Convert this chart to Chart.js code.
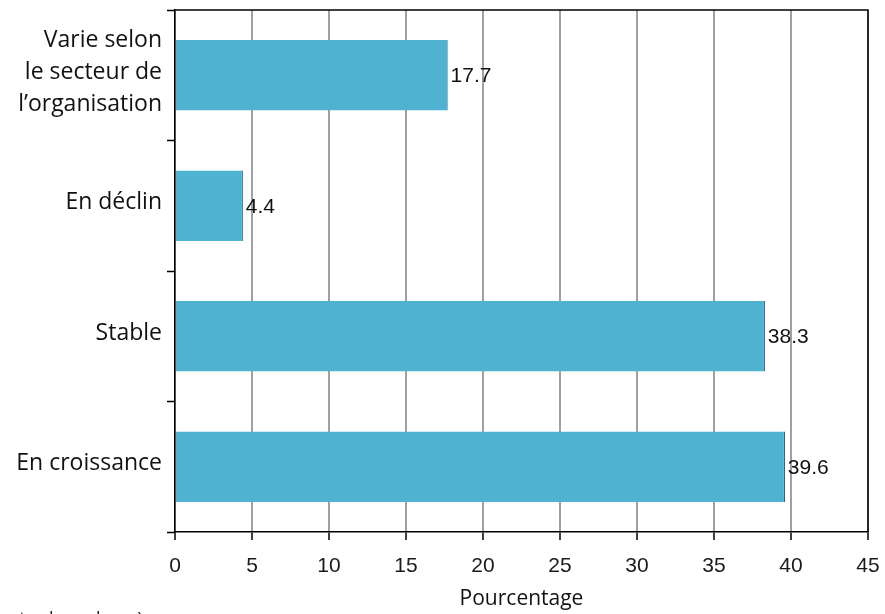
<!DOCTYPE html>
<html>
<head>
<meta charset="utf-8">
<script src="https://cdn.jsdelivr.net/npm/chart.js@4"></script>
<style>
  html, body { margin: 0; padding: 0; background: #fff; overflow: hidden; }
  #wrap { position: relative; width: 885px; height: 614px; overflow: hidden; }
  #note { position: absolute; left: -9px; top: 606px; font: 18px "Open Sans", sans-serif; color: #222; white-space: nowrap; }
</style>
</head>
<body>
<div id="wrap">
  <canvas id="chart" width="885" height="614"></canvas>
  <div id="note">toutes les valeurs)</div>
</div>
<script>
const categories = [
  ['Varie selon', 'le secteur de', 'l\u2019organisation'],
  'En déclin',
  'Stable',
  'En croissance',
]
const values = [17.7, 4.4, 38.3, 39.6]
const xTicks = [0, 5, 10, 15, 20, 25, 30, 35, 40, 45]

const labelFont = '"Open Sans", "Noto Sans", sans-serif'
const numFont = '"Liberation Sans Narrow", "Liberation Sans", Arial, sans-serif'

// frame on top and right, plus value labels at bar ends
const extras = {
  id: 'extras',
  afterDatasetsDraw(chart) {
    const { ctx, chartArea } = chart
    ctx.save()
    ctx.strokeStyle = '#000'
    ctx.lineWidth = 1.5
    ctx.beginPath()
    ctx.moveTo(chartArea.left, chartArea.top)
    ctx.lineTo(chartArea.right, chartArea.top)
    ctx.lineTo(chartArea.right, chartArea.bottom)
    ctx.stroke()

    const meta = chart.getDatasetMeta(0)
    ctx.font = '21px ' + numFont
    ctx.fillStyle = '#111'
    ctx.textAlign = 'left'
    ctx.textBaseline = 'middle'
    meta.data.forEach((bar, i) => {
      ctx.fillText(values[i].toFixed(1), bar.x + 3, bar.y + 1)
    })
    ctx.restore()
  },
}

new Chart(document.getElementById('chart'), {
  type: 'bar',
  data: {
    labels: categories,
    datasets: [
      {
        data: values,
        backgroundColor: '#4eb2d0',
        borderColor: '#111',
        borderWidth: { left: 0, top: 0, bottom: 0, right: 1 },
        borderSkipped: false,
        barPercentage: 0.54,
        categoryPercentage: 1,
      },
    ],
  },
  plugins: [extras],
  options: {
    indexAxis: 'y',
    responsive: false,
    animation: false,
    layout: { padding: { top: 10, right: 17, bottom: 0, left: 0 } },
    plugins: {
      legend: { display: false },
      tooltip: { enabled: false },
    },
    scales: {
      x: {
        min: 0,
        max: 45,
        afterBuildTicks(axis) {
          axis.ticks = xTicks.map((v) => ({ value: v }))
        },
        grid: {
          color: '#a0a0a0',
          lineWidth: 2,
          tickColor: '#000',
          tickLength: 8,
          tickWidth: 1.5,
        },
        border: { color: '#000', width: 1.5 },
        ticks: {
          padding: 14,
          color: '#1a1a1a',
          font: { family: numFont, size: 21 },
        },
        title: {
          display: true,
          text: 'Pourcentage',
          color: '#111',
          font: { family: labelFont, size: 21 },
          padding: { top: 0, bottom: 2 },
        },
        afterFit(axis) {
          axis.height = 82
          axis.paddingLeft = 0
          axis.paddingRight = 0
        },
      },
      y: {
        grid: {
          offset: true,
          drawOnChartArea: false,
          tickColor: '#000',
          tickLength: 8,
          tickWidth: 1.5,
        },
        border: { color: '#000', width: 1.5 },
        ticks: {
          padding: 5,
          labelOffset: -3,
          color: '#111',
          font: { family: labelFont, size: 23, lineHeight: 1.39 },
        },
        afterFit(axis) {
          axis.width = 175
          axis.paddingTop = 0
          axis.paddingBottom = 0
        },
      },
    },
  },
})
</script>
</body>
</html>
